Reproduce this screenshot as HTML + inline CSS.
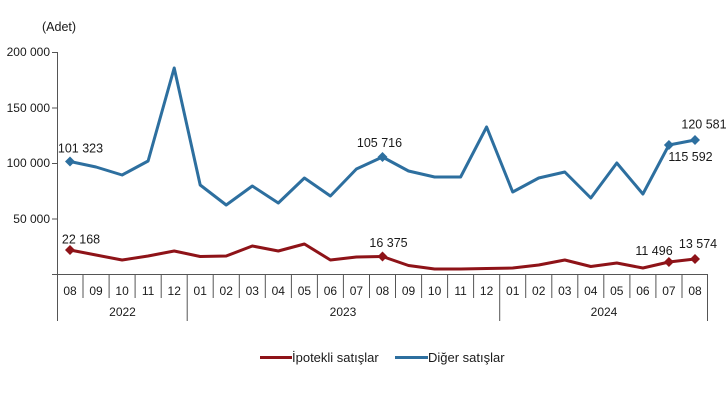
<!DOCTYPE html>
<html><head><meta charset="utf-8"><style>
html,body{margin:0;padding:0;background:#fff;}
svg{display:block;}
text{font-family:"Liberation Sans",Arial,sans-serif;fill:#1a1a1a;}
</style></head><body>
<svg width="728" height="410" viewBox="0 0 728 410" xmlns="http://www.w3.org/2000/svg">
<rect width="728" height="410" fill="#fff"/>
<text x="42" y="31" font-size="12.5">(Adet)</text>
<g font-size="12" text-anchor="end">
<text x="50" y="56">200 000</text>
<text x="50" y="112">150 000</text>
<text x="50" y="167">100 000</text>
<text x="50" y="223">50 000</text>
</g>
<g stroke="#555" stroke-width="1" fill="none">
<line x1="57.5" y1="52" x2="57.5" y2="321"/>
<line x1="52" y1="52.5" x2="57.5" y2="52.5"/>
<line x1="52" y1="108" x2="57.5" y2="108"/>
<line x1="52" y1="163.5" x2="57.5" y2="163.5"/>
<line x1="52" y1="219" x2="57.5" y2="219"/>
<line x1="52" y1="274.5" x2="708" y2="274.5"/>
<line x1="187.2" y1="274.5" x2="187.2" y2="321"/>
<line x1="499.7" y1="274.5" x2="499.7" y2="321"/>
<line x1="707.5" y1="274.5" x2="707.5" y2="321"/>
<line x1="83" y1="274.5" x2="83" y2="298"/>
<line x1="109.1" y1="274.5" x2="109.1" y2="298"/>
<line x1="135.1" y1="274.5" x2="135.1" y2="298"/>
<line x1="161.2" y1="274.5" x2="161.2" y2="298"/>
<line x1="213.2" y1="274.5" x2="213.2" y2="298"/>
<line x1="239.3" y1="274.5" x2="239.3" y2="298"/>
<line x1="265.3" y1="274.5" x2="265.3" y2="298"/>
<line x1="291.4" y1="274.5" x2="291.4" y2="298"/>
<line x1="317.4" y1="274.5" x2="317.4" y2="298"/>
<line x1="343.4" y1="274.5" x2="343.4" y2="298"/>
<line x1="369.5" y1="274.5" x2="369.5" y2="298"/>
<line x1="395.5" y1="274.5" x2="395.5" y2="298"/>
<line x1="421.6" y1="274.5" x2="421.6" y2="298"/>
<line x1="447.6" y1="274.5" x2="447.6" y2="298"/>
<line x1="473.6" y1="274.5" x2="473.6" y2="298"/>
<line x1="525.7" y1="274.5" x2="525.7" y2="298"/>
<line x1="551.8" y1="274.5" x2="551.8" y2="298"/>
<line x1="577.8" y1="274.5" x2="577.8" y2="298"/>
<line x1="603.8" y1="274.5" x2="603.8" y2="298"/>
<line x1="629.9" y1="274.5" x2="629.9" y2="298"/>
<line x1="655.9" y1="274.5" x2="655.9" y2="298"/>
<line x1="682" y1="274.5" x2="682" y2="298"/>
</g>
<g font-size="12" text-anchor="middle">
<text x="70" y="295">08</text>
<text x="96" y="295">09</text>
<text x="122.1" y="295">10</text>
<text x="148.1" y="295">11</text>
<text x="174.2" y="295">12</text>
<text x="200.2" y="295">01</text>
<text x="226.2" y="295">02</text>
<text x="252.3" y="295">03</text>
<text x="278.3" y="295">04</text>
<text x="304.4" y="295">05</text>
<text x="330.4" y="295">06</text>
<text x="356.4" y="295">07</text>
<text x="382.5" y="295">08</text>
<text x="408.5" y="295">09</text>
<text x="434.6" y="295">10</text>
<text x="460.6" y="295">11</text>
<text x="486.6" y="295">12</text>
<text x="512.7" y="295">01</text>
<text x="538.7" y="295">02</text>
<text x="564.8" y="295">03</text>
<text x="590.8" y="295">04</text>
<text x="616.8" y="295">05</text>
<text x="642.9" y="295">06</text>
<text x="668.9" y="295">07</text>
<text x="695" y="295">08</text>
<text x="122.5" y="316">2022</text>
<text x="343" y="316">2023</text>
<text x="604" y="316">2024</text>
</g>
<polyline fill="none" stroke="#2d6f9f" stroke-width="3" stroke-linejoin="round" points="70,161.5 96,167 122.1,175 148.1,161 174.2,68 200.2,185 226.2,205 252.3,186 278.3,203 304.4,178 330.4,196 356.4,169 382.5,157 408.5,171 434.6,177 460.6,177 486.6,127 512.7,192 538.7,178 564.8,172 590.8,198 616.8,163 642.9,194 668.9,145 695,140"/>
<polyline fill="none" stroke="#8e1318" stroke-width="3" stroke-linejoin="round" points="70,250 96,255 122.1,260 148.1,256 174.2,251 200.2,256.5 226.2,256 252.3,246 278.3,251 304.4,244 330.4,260 356.4,257 382.5,256.5 408.5,265.5 434.6,269 460.6,269 486.6,268.5 512.7,268 538.7,265 564.8,260 590.8,266.5 616.8,263 642.9,268 668.9,262 695,259"/>
<g fill="#2d6f9f">
<polygon points="70,156.5 75,161.5 70,166.5 65,161.5"/>
<polygon points="382.5,152 387.5,157 382.5,162 377.5,157"/>
<polygon points="668.9,140 673.9,145 668.9,150 663.9,145"/>
<polygon points="695,135 700,140 695,145 690,140"/>
</g>
<g fill="#8e1318">
<polygon points="70,245 75,250 70,255 65,250"/>
<polygon points="382.5,251.5 387.5,256.5 382.5,261.5 377.5,256.5"/>
<polygon points="668.9,257 673.9,262 668.9,267 663.9,262"/>
<polygon points="695,254 700,259 695,264 690,259"/>
</g>
<g font-size="12.5" text-anchor="middle">
<text x="80.5" y="152.5">101 323</text>
<text x="81" y="243.5">22 168</text>
<text x="379.5" y="147">105 716</text>
<text x="388.5" y="247">16 375</text>
<text x="704" y="128.5">120 581</text>
<text x="690.5" y="161">115 592</text>
<text x="654" y="255">11 496</text>
<text x="698" y="248">13 574</text>
</g>
<line x1="260" y1="357.5" x2="292" y2="357.5" stroke="#8e1318" stroke-width="3"/>
<text x="292" y="362" font-size="13">İpotekli satışlar</text>
<line x1="395" y1="357.5" x2="428" y2="357.5" stroke="#2d6f9f" stroke-width="3"/>
<text x="428" y="362" font-size="13">Diğer satışlar</text>
</svg>
</body></html>
